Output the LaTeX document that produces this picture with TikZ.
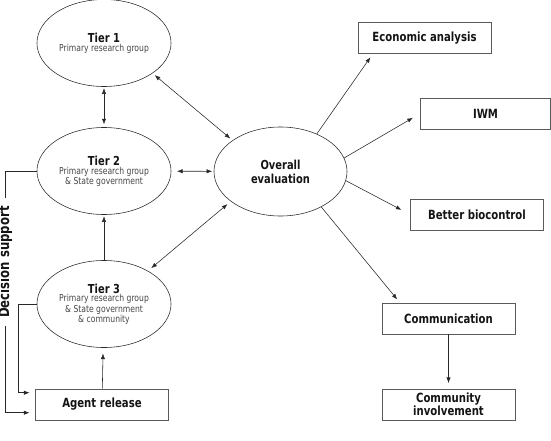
\documentclass[tikz,border=0pt]{standalone}
\usepackage{fontspec}
\setmainfont{DejaVu Sans}[FakeStretch=0.8]
\usepackage{tikz}
\usetikzlibrary{shapes.geometric, positioning, arrows.meta, calc}
\definecolor{EvLine}{RGB}{40,40,40}
\definecolor{EvBox}{RGB}{90,90,90}
\definecolor{EvText}{RGB}{20,20,20}
\definecolor{EvSub}{RGB}{70,70,70}
\newcommand{\tierhead}{\fontsize{8.8}{10}\selectfont\bfseries}
\newcommand{\tiersub}{\fontsize{6.8}{7.2}\selectfont}

\begin{document}
\begin{tikzpicture}[x=0.025cm, y=-0.025cm,
          tier/.style={ellipse, draw=EvLine, minimum width=3.35cm,
                       minimum height=2.175cm, align=center, inner sep=0pt,
                       text=EvSub, font=\tiersub},
          bx/.style={rectangle, draw=EvBox, minimum width=3.325cm,
                     minimum height=0.775cm, align=center, inner sep=1pt,
                     font=\fontsize{9}{9.4}\selectfont\bfseries, text=EvText},
          ar/.style={-{Latex[length=4pt,width=3pt]}, EvLine},
          dar/.style={{Latex[length=4pt,width=3pt]}-{Latex[length=4pt,width=3pt]}, EvLine}
        ]
        \useasboundingbox (0,0) rectangle (551,440);

        % Tiers (left column)
        \node[tier] (t1) at (104,43)
              {{\tierhead\color{EvText}Tier 1}\\[-1pt] Primary research group};
        \node[tier] (t2) at (104,171)
              {{\tierhead\color{EvText}Tier 2}\\[-1pt] Primary research group\\
               \& State government};
        \node[tier] (t3) at (104,304)
              {{\tierhead\color{EvText}Tier 3}\\[-1pt] Primary research group\\
               \& State government\\ \& community};
        \node[bx] (ag) at (102,404.5) {Agent release};

        % Overall evaluation (centre)
        \node[tier, minimum width=3.325cm, minimum height=2.225cm,
              font=\tierhead, text=EvText]
              (ov) at (280.5,171.5) {Overall\\evaluation};

        % Outcomes (right column)
        \node[bx] (ec) at (424.5,38) {Economic analysis};
        \node[bx, minimum width=3.25cm] (iwm) at (485.5,113.5) {IWM};
        \node[bx] (bb) at (477,214.5) {Better biocontrol};
        \node[bx] (cm) at (448.5,318.5) {Communication};
        \node[bx, font=\fontsize{9}{9}\selectfont\bfseries]
              (ci) at (448.5,404.5) {Community\\involvement};

        % Decision support label
        \node[rotate=90, inner sep=6pt, text=EvText,
              font=\fontsize{10.4}{11}\selectfont\bfseries]
              (ds) at (5,262) {Decision support};
        \coordinate (b3) at (18,304);

        % Links between tiers and evaluation
        \draw[dar, shorten <=1pt, shorten >=2pt] (t1) -- (t2);
        \draw[dar, shorten <=2pt, shorten >=2pt] (t1.-32) -- (ov.147);
        \draw[dar, shorten <=4pt, shorten >=1pt] (t2) -- (ov);
        \draw[dar, shorten <=3pt, shorten >=3pt] (ov.211) -- (t3.37);
        \draw[ar, shorten >=1pt] (t3) -- (t2);
        \draw[ar, shorten >=4pt] (ag) -- (t3);

        % Feedback to agent release
        \draw[ar, shorten >=4pt] (t3.west) -- (b3) |- (ag.170);
        \draw[EvLine] (t2.west) -| (ds.east);
        \draw[ar, shorten >=4pt] (ds.west) |- (ag.-173);

        % Outcomes of the evaluation
        \draw[ar, shorten >=3pt] (ov.46) -- (ec.197);
        \draw[ar, shorten >=6pt] (ov.12) -- (iwm.west);
        \draw[ar, shorten >=7pt] (ov.-8) -- (bb.west);
        \draw[ar, shorten >=3pt] (ov.-41) -- (cm.162);
        \draw[ar, shorten >=4pt] (cm) -- (ci);
      \end{tikzpicture}
\end{document}
